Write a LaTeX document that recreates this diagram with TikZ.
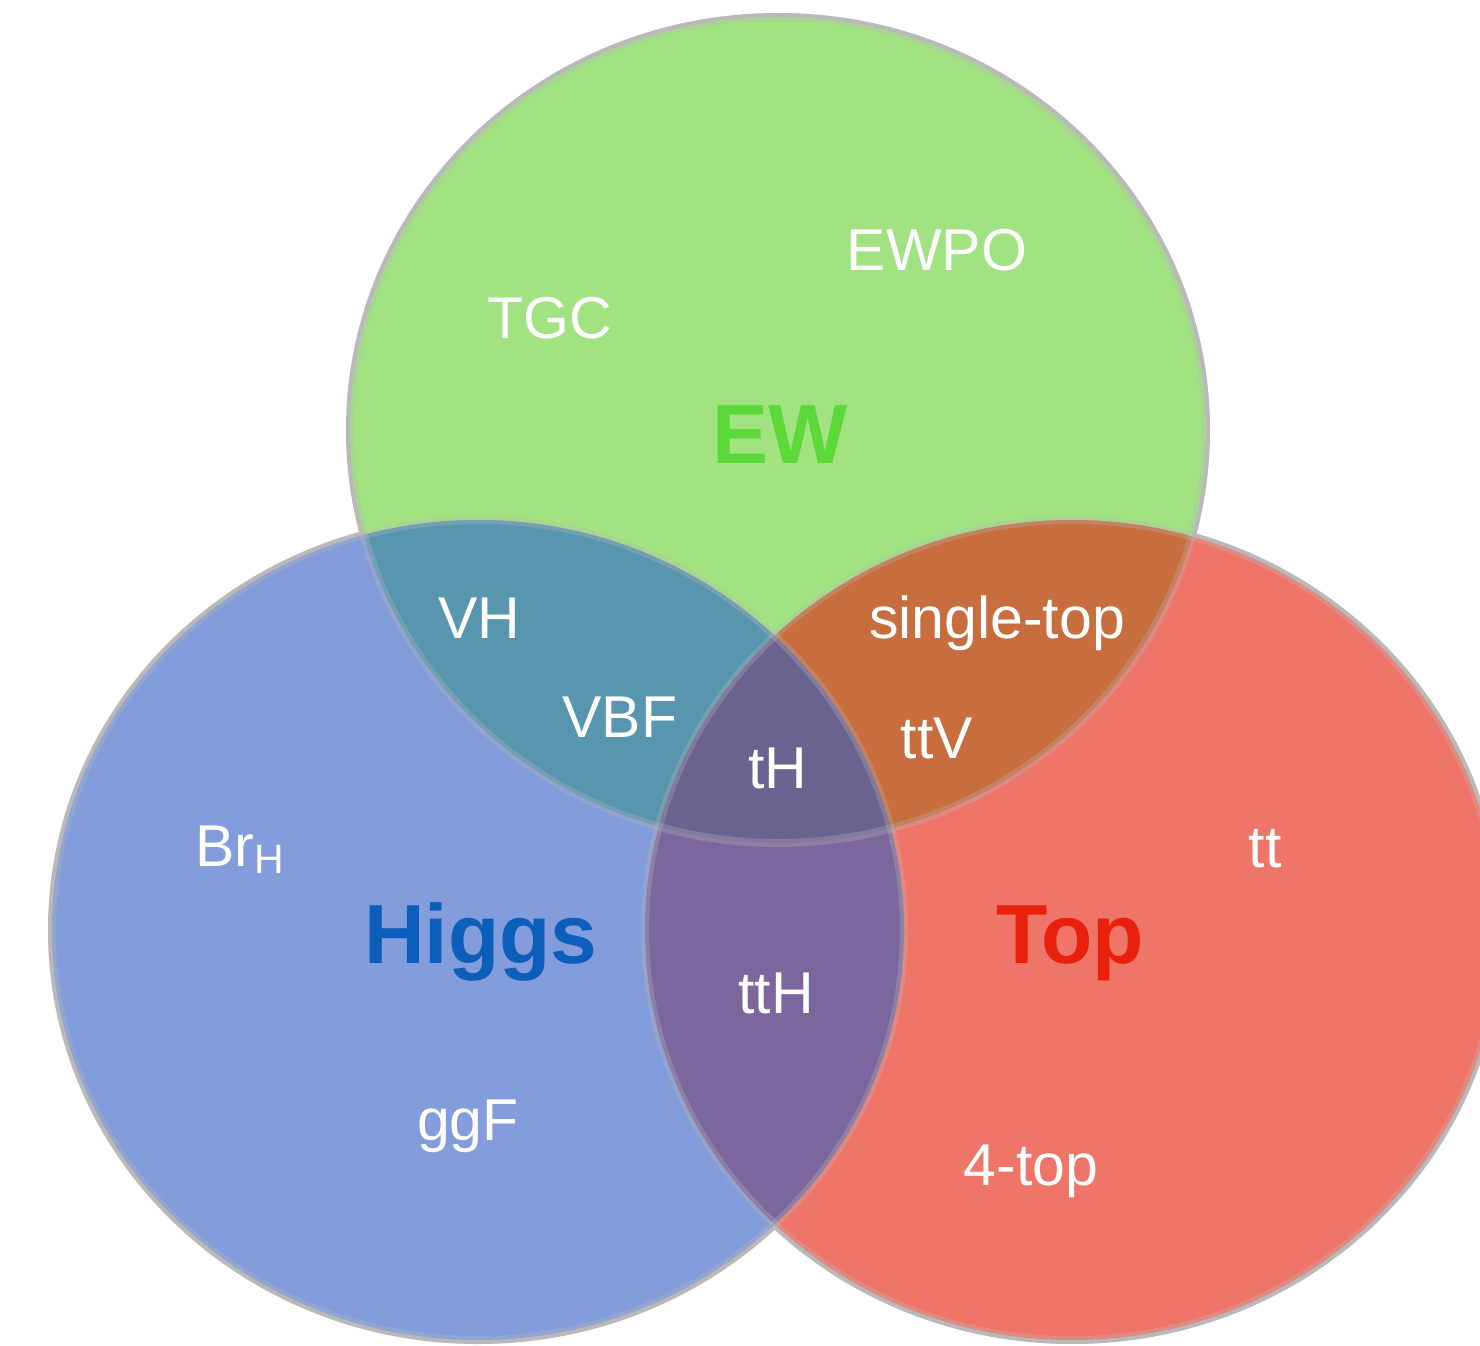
\documentclass[tikz,border=0pt]{standalone}
\usepackage{fontspec}
\setmainfont{Liberation Sans}
\definecolor{cG}{HTML}{A1E281}
\definecolor{cB}{HTML}{839CDB}
\definecolor{cR}{HTML}{F07569}
\definecolor{cGB}{HTML}{5896AF}
\definecolor{cGR}{HTML}{C86D3D}
\definecolor{cBR}{HTML}{7B679D}
\definecolor{cGBR}{HTML}{6A6390}
\definecolor{cEdge}{HTML}{B9B9B9}
\definecolor{tEW}{HTML}{5CD838}
\definecolor{tHiggs}{HTML}{0C5EBB}
\definecolor{tTop}{HTML}{E8200C}
\def\EllG{(778,430) ellipse [x radius=428pt, y radius=413pt]}
\def\EllB{(478,930) ellipse [x radius=426pt, y radius=410pt]}
\def\EllR{(1072,930) ellipse [x radius=427pt, y radius=410pt]}
\tikzset{
  lbl/.style={text=white, inner sep=0pt, anchor=base, font=\fontsize{59}{62}\selectfont},
  big/.style={inner sep=0pt, anchor=base, font=\fontsize{84}{88}\selectfont\bfseries},
  edge/.style={draw=cEdge, line width=8pt}
}
\begin{document}
\begin{tikzpicture}[x=1pt, y=-1pt]
\useasboundingbox (0,0) rectangle (1480,1346);
\fill[white] (0,0) rectangle (1480,1346);
% opaque borders first
\draw[edge] \EllG;
\draw[edge] \EllB;
\draw[edge] \EllR;
% base fills
\fill[cG] \EllG;
\fill[cB] \EllB;
\fill[cR] \EllR;
% pairwise overlaps
\begin{scope}
  \clip \EllG;
  \fill[cGB] \EllB;
  \fill[cGR] \EllR;
\end{scope}
\begin{scope}
  \clip \EllB;
  \fill[cBR] \EllR;
\end{scope}
\begin{scope}
  \clip \EllG;
  \clip \EllB;
  \fill[cGBR] \EllR;
\end{scope}
% translucent borders over everything
\draw[edge, draw opacity=0.3] \EllG;
\draw[edge, draw opacity=0.3] \EllB;
\draw[edge, draw opacity=0.3] \EllR;
% labels
\node[lbl] (ewpo) at (937,270) {EWPO};
\node[lbl] (tgc) at (550,338) {TGC};
\node[big, text=tEW] (ew) at (780,463) {EW};
\node[lbl] (vh) at (479,638) {VH};
\node[lbl] (vbf) at (620,737) {VBF};
\node[lbl] (stop) at (997,638) {single-top};
\node[lbl] (ttv) at (937,758) {ttV};
\node[lbl] (th) at (778,788) {tH};
\node[lbl, anchor=base west] (brh) at (195,866) {Br\raisebox{-7pt}{\fontsize{41}{41}\selectfont H}};
\node[big, text=tHiggs] (higgs) at (481,963) {Higgs};
\node[lbl] (tth) at (776,1013) {ttH};
\node[lbl] (tt) at (1265,867) {tt};
\node[big, text=tTop] (top) at (1070,963) {Top};
\node[lbl] (ggf) at (468,1140) {ggF};
\node[lbl] (fourtop) at (1031,1185) {4-top};
\end{tikzpicture}
\end{document}
